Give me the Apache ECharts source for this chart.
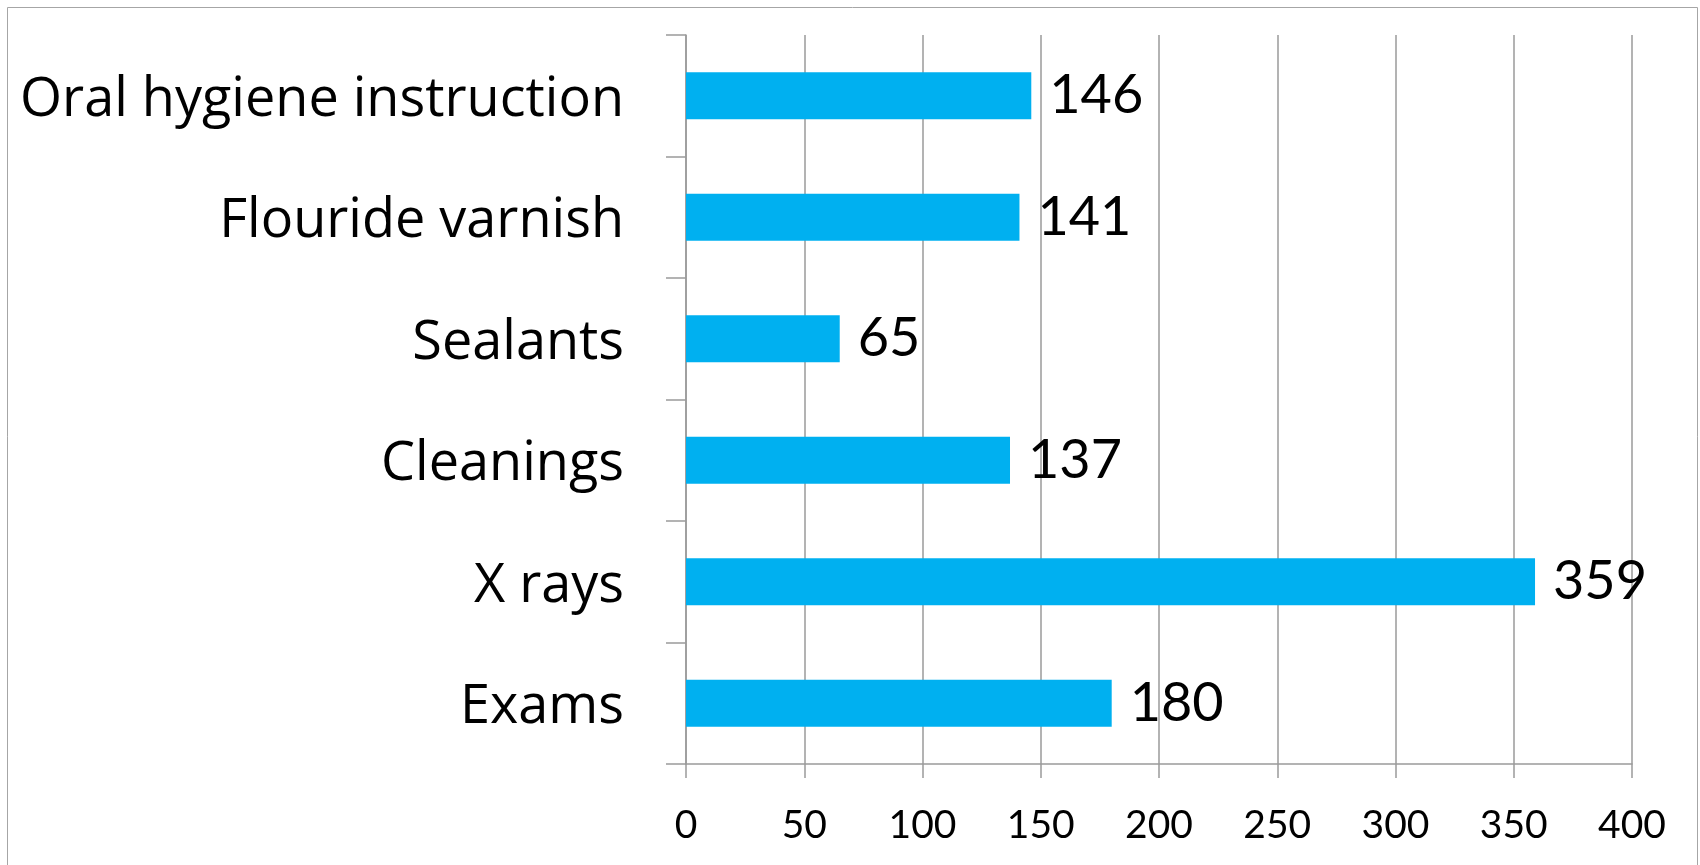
<!DOCTYPE html>
<html>
<head>
<meta charset="utf-8">
<script src="https://cdn.jsdelivr.net/npm/echarts@6/dist/echarts.min.js"></script>
<style>
  html, body { margin: 0; padding: 0; background: #fff; }
  #chart { width: 1700px; height: 865px; }
</style>
</head>
<body>
<div id="chart"></div>
<script>
    // 数据
    var categories = ['Exams', 'X rays', 'Cleanings', 'Sealants', 'Flouride varnish', 'Oral hygiene instruction'];
    var values = [180, 359, 137, 65, 141, 146];
    var axisMin = 0, axisMax = 400, axisStep = 50;

    var lineGray = '#9a9a9a';
    var myChart = echarts.init(document.getElementById('chart'));

    myChart.setOption({
        animation: false,
        textStyle: { fontFamily: 'Lato' },
        graphic: [{
            type: 'rect',
            shape: { x: 7.5, y: 7.5, width: 1690, height: 900 },
            style: { fill: 'none', stroke: '#a6a6a6', lineWidth: 1 }
        }],
        grid: {
            left: 686,
            right: 68,
            top: 35,
            bottom: 101
        },
        /*X轴*/
        xAxis: {
            type: 'value',
            min: axisMin,
            max: axisMax,
            interval: axisStep,
            axisLine: { show: true, lineStyle: { color: lineGray, width: 1.5 } },
            axisTick: { show: true, length: 14, lineStyle: { color: lineGray, width: 1.5 } },
            splitLine: { show: true, lineStyle: { color: lineGray, width: 1.5 } },
            axisLabel: { color: '#000', fontSize: 39, margin: 42 }
        },
        /*Y轴*/
        yAxis: {
            type: 'category',
            data: categories,
            axisLine: { show: true, lineStyle: { color: lineGray, width: 1.5 } },
            axisTick: { show: true, length: 20, lineStyle: { color: lineGray, width: 1.5 } },
            axisLabel: {
                color: '#000',
                margin: 62,
                formatter: function (v) { return '{c|' + v + '}'; },
                rich: {
                    c: { fontSize: 54, fontFamily: 'Open Sans', color: '#000', padding: [9, 0, 0, 0] }
                }
            }
        },
        series: [{
            type: 'bar',
            data: values,
            barWidth: 47,
            itemStyle: { color: '#00b0f0' },
            label: {
                show: true,
                position: 'right',
                distance: 18,
                color: '#000',
                fontSize: 54
            }
        }]
    });
</script>
</body>
</html>
